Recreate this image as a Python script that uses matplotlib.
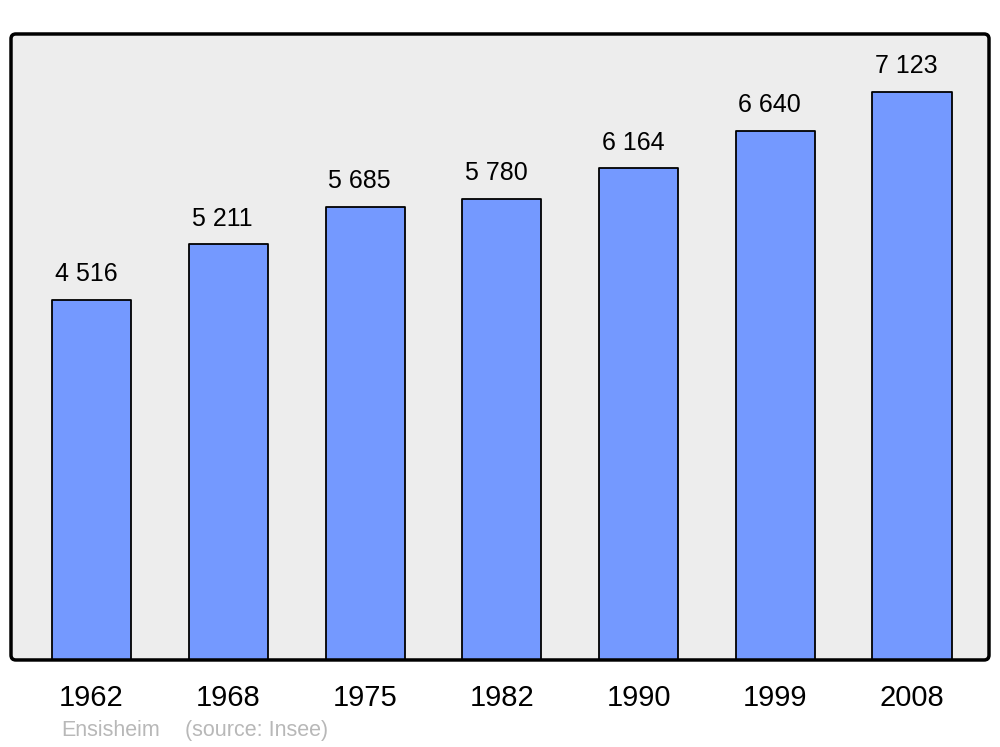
import matplotlib.pyplot as plt
from matplotlib.patches import FancyBboxPatch

years = ['1962', '1968', '1975', '1982', '1990', '1999', '2008']
population = [4516, 5211, 5685, 5780, 6164, 6640, 7123]
town = 'Ensisheim'
source = '(source: Insee)'

plt.rcParams['font.family'] = ['Liberation Sans', 'DejaVu Sans']

fig = plt.figure(figsize=(10, 7.47), dpi=100)
ax = fig.add_axes([0.011, 0.1165, 0.978, 0.838])
ax.set_facecolor('#ededed')

x = list(range(len(years)))
bars = ax.bar(x, population, width=0.578, color='#7499ff', edgecolor='black',
              linewidth=1.3, joinstyle='round', zorder=2)

for xi, v in zip(x, population):
    label = f'{v:,}'.replace(',', ' ')
    ax.annotate(label, (xi, v), xytext=(-4, 10), textcoords='offset points',
                ha='center', va='bottom', fontsize=18)

ax.set_xlim(-0.589, 6.563)
ax.set_ylim(0, 7851)
ax.set_yticks([])
ax.set_xticks(x)
ax.set_xticklabels(years, fontsize=21)
ax.tick_params(axis='x', length=0, pad=17)

# rounded frame instead of plain spines
for s in ax.spines.values():
    s.set_visible(False)
frame = FancyBboxPatch((0, 0), 1, 1, boxstyle='round,pad=0,rounding_size=0.005',
                       mutation_aspect=1.56, transform=ax.transAxes,
                       facecolor='none', edgecolor='black', linewidth=2.5,
                       clip_on=False, zorder=5)
ax.add_patch(frame)

fig.text(0.061, 0.015, town, color='#b8b8b8', fontsize=15.5)
fig.text(0.185, 0.015, source, color='#b8b8b8', fontsize=15.5)

fig.savefig('out.png', dpi=100)
